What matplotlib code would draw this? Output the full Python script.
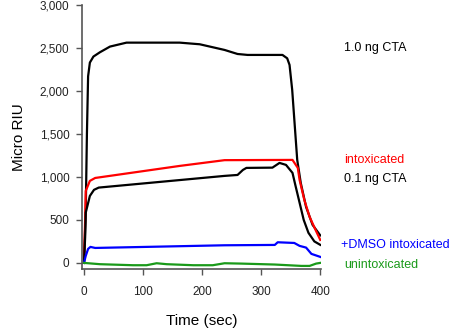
import matplotlib
matplotlib.use("Agg")
import matplotlib.pyplot as plt
import numpy as np

plt.rcParams['font.family'] = ['Liberation Sans', 'DejaVu Sans']

# time (sec) / response (micro RIU) pairs
t_hi = [0, 3, 5, 7, 10, 16, 27, 44, 72, 162, 196, 238, 260, 277, 336, 344, 348, 352.5, 356.5, 361, 367, 376, 387, 400]
y_hi = [0, 600, 1500, 2170, 2330, 2400, 2450, 2516, 2562, 2562, 2543, 2477, 2430, 2419, 2419, 2380, 2303, 2012, 1628, 1198, 930, 651, 442, 320]

t_lo = [0, 2, 3, 10, 17, 25, 238, 260, 269, 275, 319, 331, 342, 353, 358, 365, 372, 380, 390, 400]
y_lo = [0, 300, 585, 779, 850, 876, 1012, 1023, 1081, 1105, 1108, 1163, 1140, 1047, 900, 700, 500, 350, 250, 210]

t_intox = [0, 2, 3, 10, 19, 162, 238, 353, 362, 365, 373, 382, 392, 400]
y_intox = [0, 500, 837, 954, 988, 1128, 1195, 1198, 1105, 965, 733, 535, 384, 267]

t_dmso = [0, 3, 7, 11, 19, 238, 323, 328, 356, 365, 376, 385, 400]
y_dmso = [0, 81, 163, 186, 174, 205, 209, 240, 232, 198, 178, 105, 70]

t_unintox = [0, 27, 83, 106, 123, 140, 185, 218, 238, 266, 323, 368, 382, 393, 400]
y_unintox = [0, -15, -27, -27, -4, -15, -27, -27, -4, -8, -19, -35, -35, -8, 0]

labels = ["1.0 ng CTA", "intoxicated", "0.1 ng CTA", "+DMSO intoxicated", "unintoxicated"]
label_y = [2500, 1198, 975, 209, -23]
colors = ["black", "#ff0000", "black", "#0000ff", "#1a9a1a"]

fig = plt.figure(figsize=(4.5, 3.32), dpi=100)
ax = fig.add_axes([0.182, 0.19, 0.531, 0.795])

ax.plot(t_hi, y_hi, color=colors[0], lw=1.6)
ax.plot(t_intox, y_intox, color=colors[1], lw=1.6)
ax.plot(t_lo, y_lo, color=colors[2], lw=1.6)
ax.plot(t_dmso, y_dmso, color=colors[3], lw=1.6)
ax.plot(t_unintox, y_unintox, color=colors[4], lw=1.6)

for lab, yy, c in zip(labels, label_y, colors):
    ax.text(441 if lab[0] != "+" else 435, yy, lab, color=c, fontsize=9,
            va="center", ha="left", clip_on=False)

ax.set_xlim(-3.5, 401)
ax.set_ylim(-70, 3000)
ax.set_xticks([0, 100, 200, 300, 400])
ax.set_yticks(range(0, 3001, 500))
ax.set_yticklabels([f"{v:,}" for v in range(0, 3001, 500)])

for s in ["top", "right"]:
    ax.spines[s].set_visible(False)
for s in ["left", "bottom"]:
    ax.spines[s].set_color("#555555")
    ax.spines[s].set_linewidth(1.2)
ax.tick_params(axis="both", direction="out", length=4, width=1.0,
               color="#555555", labelsize=8.5, labelcolor="#222222")
ax.tick_params(axis="x", pad=8)
ax.tick_params(axis="y", pad=5)

ax.set_xlabel("Time (sec)", fontsize=11, labelpad=12)
ax.set_ylabel("Micro RIU", fontsize=11, labelpad=10)

fig.savefig("out.png", dpi=100)
